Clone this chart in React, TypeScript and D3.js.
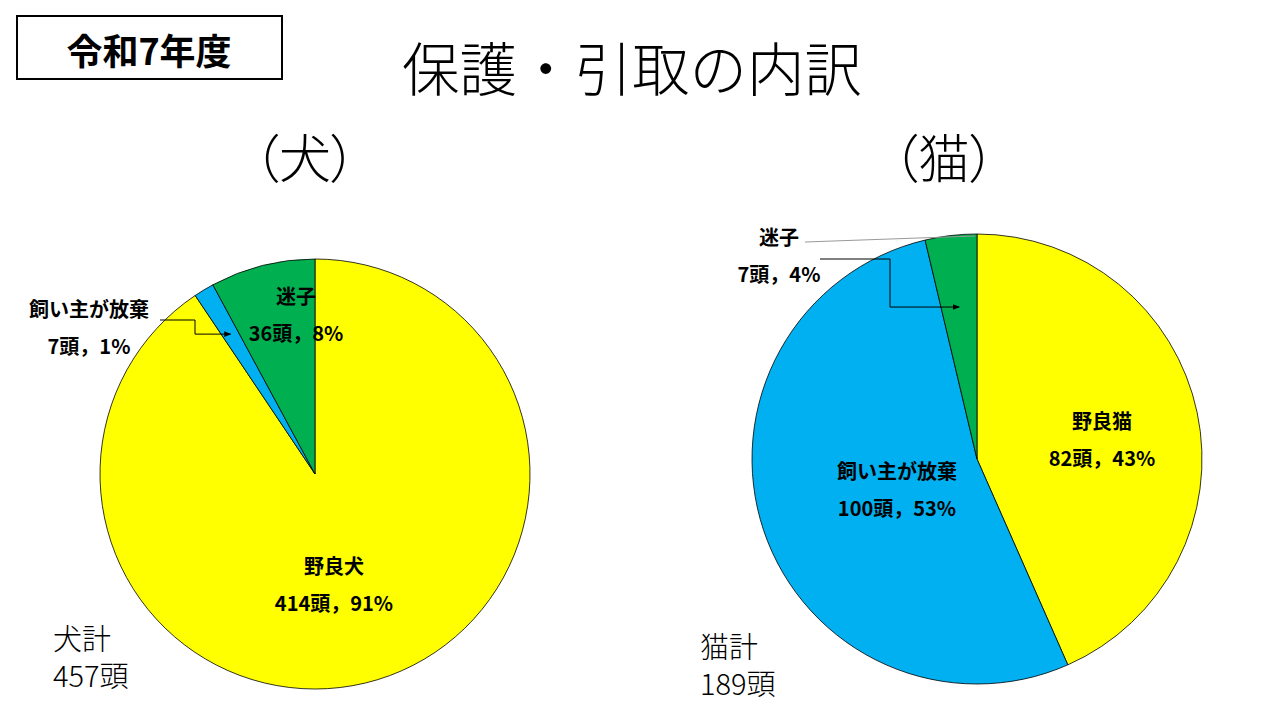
import * as d3 from 'd3'

// 犬 (dogs)
const dogCategories = ['野良犬', '飼い主が放棄', '迷子']
const dogCounts = [414, 7, 36]
const dogPercents = [91, 1, 8]
const dogTotal = 457

// 猫 (cats)
const catCategories = ['野良猫', '飼い主が放棄', '迷子']
const catCounts = [82, 100, 7]
const catPercents = [43, 53, 4]
const catTotal = 189

const sliceColors = ['#FFFF00', '#00B0F0', '#00B050']

const FONT = '"Noto Sans CJK JP", "Noto Sans", sans-serif'

interface Slice {
  name: string
  value: number
  pct: number
}

interface LabelPos {
  x: number
  y: number
}

interface PieProps {
  cx: number
  cy: number
  r: number
  slices: Slice[]
  labels: LabelPos[]
  children?: React.ReactNode
}

function Pie({ cx, cy, r, slices, labels, children }: PieProps) {
  const pie = d3.pie<Slice>().value(d => d.value).sort(null)
  const arcs = pie(slices)
  const arc = d3.arc<d3.PieArcDatum<Slice>>().innerRadius(0).outerRadius(r)
  return (
    <g>
      <g transform={`translate(${cx},${cy})`}>
        {arcs.map((a, i) => (
          <path key={i} d={arc(a) ?? ''} fill={sliceColors[i]} stroke="#000" strokeWidth={0.8} />
        ))}
      </g>
      {children}
      {arcs.map((a, i) => (
        <g key={i} fontFamily={FONT} fontWeight={700} fontSize={20} textAnchor="middle" fill="#000">
          <text x={labels[i].x} y={labels[i].y} dominantBaseline="central">{a.data.name}</text>
          <text x={labels[i].x} y={labels[i].y + 37} dominantBaseline="central">
            {`${a.data.value}頭，${a.data.pct}%`}
          </text>
        </g>
      ))}
    </g>
  )
}

// point inside a slice at a fraction of the radius, along its middle angle
function slicePoint(values: number[], index: number, cx: number, cy: number, r: number, frac: number) {
  const arcs = d3.pie<number>().sort(null)(values)
  const a = arcs[index]
  const mid = (a.startAngle + a.endAngle) / 2
  return { x: cx + Math.sin(mid) * r * frac, y: cy - Math.cos(mid) * r * frac }
}

export default function App() {
  const dogSlices = dogCategories.map((name, i) => ({ name, value: dogCounts[i], pct: dogPercents[i] }))
  const catSlices = catCategories.map((name, i) => ({ name, value: catCounts[i], pct: catPercents[i] }))

  const dogCx = 315, dogCy = 474, dogR = 215
  const catCx = 977, catCy = 459, catR = 225

  const dogTip = slicePoint(dogCounts, 1, dogCx, dogCy, dogR, 0.76)
  const catTip = slicePoint(catCounts, 2, catCx, catCy, catR, 0.68)

  return (
    <svg width={1280} height={720} style={{ position: 'fixed', left: 0, top: 0, background: '#fff' }}>
      <defs>
        <marker id="arrow" viewBox="0 0 10 10" refX={9} refY={5} markerWidth={7} markerHeight={7} orient="auto">
          <path d="M0,1 L10,5 L0,9 z" fill="#000" />
        </marker>
      </defs>

      {/* 年度 box */}
      <rect x={17} y={16} width={265} height={63} fill="none" stroke="#000" strokeWidth={2} />
      <text x={149} y={49} fontFamily={FONT} fontWeight={700} fontSize={36} textAnchor="middle" dominantBaseline="central">
        令和7年度
      </text>

      {/* Title */}
      <text x={632} y={66} fontFamily={FONT} fontWeight={300} fontSize={57.5} textAnchor="middle" dominantBaseline="central">
        保護・引取の内訳
      </text>

      <text x={305} y={155} fontFamily={FONT} fontWeight={300} fontSize={52} textAnchor="middle" dominantBaseline="central"
        style={{ fontFeatureSettings: '"palt"' }}>
        （犬）
      </text>
      <text x={944} y={155} fontFamily={FONT} fontWeight={300} fontSize={52} textAnchor="middle" dominantBaseline="central"
        style={{ fontFeatureSettings: '"palt"' }}>
        （猫）
      </text>

      <Pie cx={dogCx} cy={dogCy} r={dogR} slices={dogSlices}
        labels={[{ x: 334, y: 565 }, { x: 89, y: 308 }, { x: 296, y: 295 }]}>
        <polyline points={`160,320 195,320 195,${dogTip.y} ${dogTip.x},${dogTip.y}`}
          fill="none" stroke="#000" strokeWidth={1} markerEnd="url(#arrow)" />
      </Pie>

      <Pie cx={catCx} cy={catCy} r={catR} slices={catSlices}
        labels={[{ x: 1102, y: 420 }, { x: 897, y: 470 }, { x: 779, y: 236 }]}>
        <line x1={805} y1={242} x2={975} y2={236} stroke="#999" strokeWidth={1} />
        <polyline points={`820,259 890,259 890,${catTip.y} ${catTip.x},${catTip.y}`}
          fill="none" stroke="#000" strokeWidth={1} markerEnd="url(#arrow)" />
      </Pie>

      {/* totals */}
      <g fontFamily={FONT} fontWeight={300} fontSize={29} fill="#000">
        <text x={53} y={637} dominantBaseline="central">犬計</text>
        <text x={53} y={674} dominantBaseline="central">{`${dogTotal}頭`}</text>
        <text x={700} y={645} dominantBaseline="central">猫計</text>
        <text x={700} y={682} dominantBaseline="central">{`${catTotal}頭`}</text>
      </g>
    </svg>
  )
}
